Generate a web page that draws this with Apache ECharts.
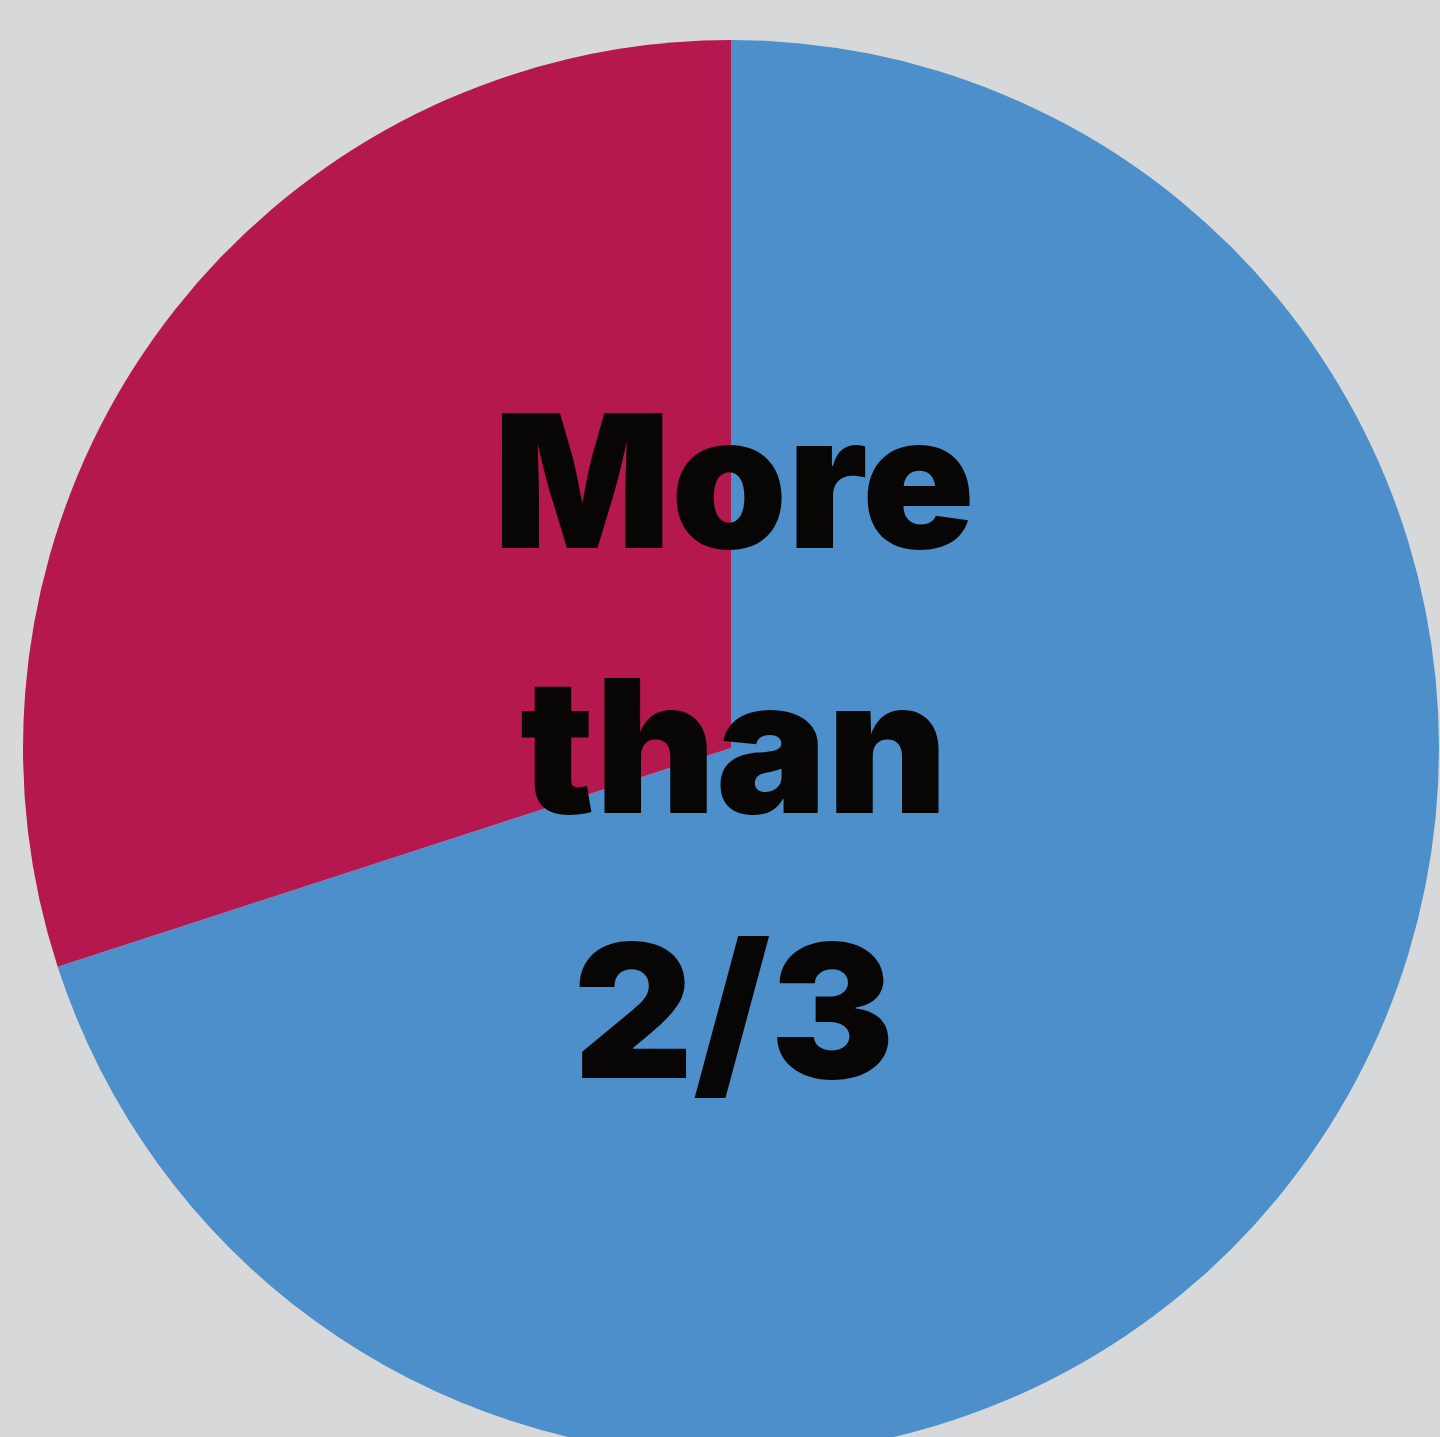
<!DOCTYPE html>
<html>
<head>
<meta charset="utf-8">
<script src="https://cdn.jsdelivr.net/npm/echarts@6/dist/echarts.min.js"></script>
<style>
  html, body { margin: 0; padding: 0; background: #d7d8da; }
  #chartPie { width: 1440px; height: 1437px; }
</style>
</head>
<body>
<div id="chartPie"></div>
<script>
// slices, clockwise from 12 o'clock
var categories = ['Yes', 'No'];
var values = [70, 30];
var colors = ['#4c8fcb', '#b4184f'];
var labelLines = ['More', 'than', '2/3'];

var chart = echarts.init(document.getElementById('chartPie'));

var option = {
  backgroundColor: '#d7d8da',
  animation: false,
  series: [
    {
      type: 'pie',
      center: [731, 748],
      radius: 708,
      startAngle: 90,
      clockwise: true,
      label: { show: false },
      labelLine: { show: false },
      itemStyle: { borderWidth: 0 },
      emphasis: { disabled: true },
      data: categories.map(function (name, i) {
        return { name: name, value: values[i], itemStyle: { color: colors[i] } };
      })
    }
  ],
  graphic: {
    elements: [
      {
        type: 'text',
        x: 734,
        y: 757,
        z: 100,
        style: {
          text: labelLines.join('\n'),
          fill: '#080604',
          fontSize: 186,
          fontWeight: 900,
          fontFamily: 'Inter, "Noto Sans", sans-serif',
          lineHeight: 265,
          align: 'center',
          verticalAlign: 'middle'
        }
      }
    ]
  }
};

chart.setOption(option);
</script>
</body>
</html>
